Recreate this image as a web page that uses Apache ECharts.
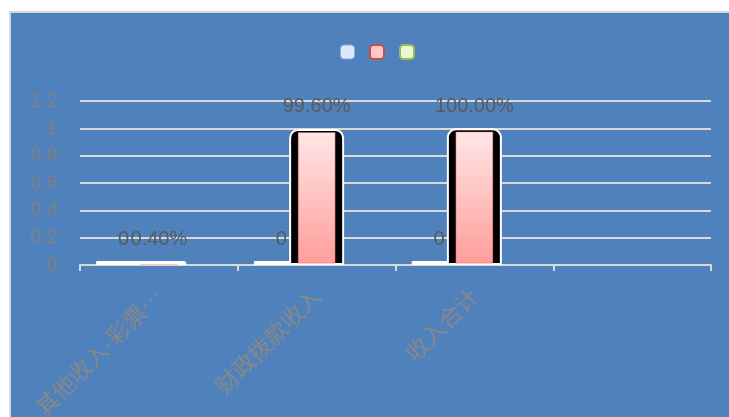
<!DOCTYPE html>
<html>
<head>
<meta charset="utf-8">
<script src="https://cdn.jsdelivr.net/npm/echarts@6/dist/echarts.min.js"></script>
<style>
    html, body { margin: 0; padding: 0; background: #fff; overflow: hidden; }
    #frame { position: absolute; left: 9px; top: 11px; width: 730px; height: 420px;
             border-left: 2px solid #d9d9d9; border-top: 2px solid #d9d9d9; }
    #chart { width: 718px; height: 404px; }
</style>
</head>
<body>
<div id="frame"><div id="chart"></div></div>
<script>
const categories = ['其他收入-彩票…', '财政拨款收入', '收入合计', ''];
const seriesNames = ['系列1', '系列2', '系列3'];
const series1 = [0, 0, 0, null];
const series2 = [0.004, 0.996, 1, null];
const series3 = [null, null, null, null];
const yTicks = { min: 0, max: 1.2, interval: 0.2 };

const chart = echarts.init(document.getElementById('chart'));

const pinkFill = new echarts.graphic.LinearGradient(0, 0, 0, 1, [
    { offset: 0, color: '#ffe6e6' },
    { offset: 1, color: '#ff9e9b' }
]);

const options = {
    backgroundColor: '#4f81bd',
    animation: false,
    textStyle: { fontFamily: 'Liberation Sans' },
    legend: {
        left: 324,
        top: 26,
        itemWidth: 14,
        itemHeight: 14,
        itemGap: 14,
        formatter: () => '',
        data: [
            { name: seriesNames[0], itemStyle: { color: '#dce8fb', borderColor: '#8aaee0', borderWidth: 1 } },
            { name: seriesNames[1], itemStyle: { color: '#ffc8c8', borderColor: '#c0504d', borderWidth: 2 } },
            { name: seriesNames[2], itemStyle: { color: '#eef7d2', borderColor: '#9bbb59', borderWidth: 2 } }
        ]
    },
    grid: { left: 69, right: 18, top: 88, bottom: 152, outerBoundsMode: 'none', containLabel: false },
    xAxis: {
        type: 'category',
        data: categories,
        axisLine: { lineStyle: { color: '#d9d9d9', width: 2 } },
        axisTick: { show: true, alignWithLabel: false, length: 6, lineStyle: { color: '#d9d9d9', width: 2 } },
        axisLabel: {
            rotate: 45,
            margin: 27,
            color: '#888888',
            fontSize: 23,
            fontFamily: 'Noto Sans CJK SC',
            interval: 0
        }
    },
    yAxis: {
        type: 'value',
        min: yTicks.min,
        max: yTicks.max,
        interval: yTicks.interval,
        axisLine: { show: false },
        axisTick: { show: false },
        axisLabel: { color: '#808080', fontSize: 20, margin: 22 },
        splitLine: { lineStyle: { color: '#d9d9d9', width: 2 } }
    },
    series: [
        {
            name: seriesNames[0],
            type: 'bar',
            data: series1,
            barWidth: 55,
            barGap: '-36%',
            barMinHeight: 4,
            itemStyle: { color: '#fff', borderColor: '#fff', borderWidth: 1 },
            label: {
                show: true, position: 'top', distance: 12,
                color: '#5a5a5a', fontSize: 20
            }
        },
        {
            name: seriesNames[1],
            type: 'bar',
            data: series2,
            barWidth: 55,
            barMinHeight: 4,
            z: 3,
            itemStyle: { color: '#000', borderColor: '#fff', borderWidth: 2, borderRadius: [8, 8, 0, 0] },
            label: {
                show: true, position: 'top', distance: 12,
                color: '#5a5a5a', fontSize: 20,
                formatter: p => (p.value * 100).toFixed(2) + '%'
            }
        },
        {
            name: seriesNames[2],
            type: 'bar',
            data: series3,
            barWidth: 55,
            itemStyle: { color: '#eef7d2', borderColor: '#9bbb59' }
        },
        {
            name: 'fill',
            type: 'pictorialBar',
            data: series2,
            symbol: 'rect',
            symbolPosition: 'start',
            symbolSize: [37, '96%'],
            z: 4,
            silent: true,
            itemStyle: { color: pinkFill, borderColor: '#c0504d', borderWidth: 2 }
        }
    ]
};
chart.setOption(options);
</script>
</body>
</html>
